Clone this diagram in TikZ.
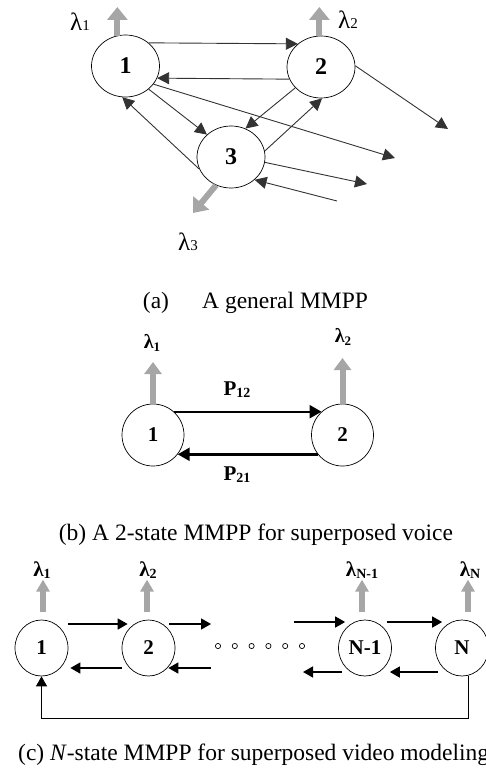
\documentclass[tikz,border=0pt]{standalone}
\usepackage{fontspec}
\setmainfont{Liberation Serif}
\usetikzlibrary{arrows.meta,shapes.geometric,calc}
\newcommand\lbsub[3]{\textbf{λ}\raisebox{#1}{\fontsize{#2}{#2}\selectfont\textbf{#3}}}
\begin{document}
\begin{tikzpicture}[x=1pt,y=-1pt,
  sta/.style={draw, ellipse, line width=0.7pt, inner sep=0, minimum width=68pt, minimum height=62pt, font=\fontsize{24}{28}\selectfont\bfseries},
  stb/.style={draw, circle, line width=0.7pt, inner sep=0, minimum size=62pt, font=\fontsize{21}{24}\selectfont\bfseries},
  stc/.style={draw, ellipse, line width=0.7pt, inner sep=0, minimum width=53pt, minimum height=56pt, font=\fontsize{21}{24}\selectfont\bfseries},
  aa/.style={draw=black!80, line width=0.9pt, -{Triangle[length=12pt,width=12pt]}},
  ab/.style={draw=black, line width=2.4pt, -{Triangle[length=12pt,width=13pt]}},
  ac/.style={draw=black, line width=1.5pt, -{Triangle[length=10pt,width=11pt]}},
  lama/.style={draw=black!35, line width=6pt, -{Triangle[length=13pt,width=20pt]}},
  lamb/.style={draw=black!35, line width=6pt, -{Triangle[length=12pt,width=17pt]}},
  lamc/.style={draw=black!35, line width=5.5pt, -{Triangle[length=12pt,width=13pt]}},
  captxt/.style={inner sep=0, font=\fontsize{23.5}{28}\selectfont},
  lab/.style={inner sep=0}
]
\useasboundingbox (0,0) rectangle (485,773);

% ---------- (a) ----------
\node[sta] (n1) at (125.5,66) {1};
\node[sta] (n2) at (321,67) {2};
\node[sta] (n3) at (231,157) {3};
\coordinate (c2o) at (448,129);
\coordinate (c1o) at (395,158);
\coordinate (c3o) at (367,184);
\coordinate (c3i) at (337,201);
\coordinate (la1) at (117,7);
\coordinate (la2) at (319,7);
\coordinate (la3) at (193,213);
\draw[aa] (n1.45) -- (n2.135);
\draw[aa] (n2.201) -- (n1.-21);
\draw[aa] (n2.2) -- (c2o);
\draw[aa] (n1.-33) -- (c1o);
\draw[aa] (n1.-45) -- (n3.137);
\draw[aa] (n2.219) -- (n3.63);
\draw[aa] (n3.201) -- (n1.-96);
\draw[aa] (n3.10) -- (n2.-88);
\draw[aa] (n3.-9) -- (c3o);
\draw[aa] (c3i) -- (n3.-44);
\draw[lama] (n1.105) -- (n1.105 |- la1);
\draw[lama] (n2.93) -- (n2.93 |- la2);
\draw[lama] (n3.242) -- (la3);
\node[lab] (ta1) at (80,22) {\fontsize{25}{28}\selectfont λ{\fontsize{15}{16}\selectfont 1}};
\node[lab] (ta2) at (348,20) {\fontsize{25}{28}\selectfont λ{\fontsize{15}{16}\selectfont 2}};
\node[lab] (ta3) at (188,242) {\fontsize{25}{28}\selectfont λ{\fontsize{15}{16}\selectfont 3}};
\node[captxt] (ca1) at (156,303) {(a)};
\node[captxt, anchor=west] (ca2) at (202,303) {A general MMPP};

% ---------- (b) ----------
\node[stb] (m1) at (153,435) {1};
\node[stb] (m2) at (342.5,435) {2};
\coordinate (lb1) at (153,362);
\coordinate (lb2) at (342.5,358);
\draw[ab] (m1.48) -- (m2.132);
\draw[ab] (m2.218) -- (m1.-38);
\draw[lamb] (m1.north) -- (lb1);
\draw[lamb] (m2.north) -- (lb2);
\node[lab] (tb1) at (152,343) {\fontsize{20}{22}\selectfont\lbsub{-3pt}{13}{1}};
\node[lab] (tb2) at (343,337) {\fontsize{20}{22}\selectfont\lbsub{-3pt}{13}{2}};
\node[lab] (p12) at (237,390) {\fontsize{21}{24}\selectfont\textbf{P}\raisebox{-2pt}{\fontsize{14}{15}\selectfont\textbf{12}}};
\node[lab] (p21) at (237,475) {\fontsize{21}{24}\selectfont\textbf{P}\raisebox{-2pt}{\fontsize{14}{15}\selectfont\textbf{21}}};
\node[captxt] (cb) at (256,535) {(b) A 2-state MMPP for superposed voice};

% ---------- (c) ----------
\node[stc] (k1) at (41.5,648) {1};
\node[stc] (k2) at (148.5,648) {2};
\node[stc] (kN1) at (365,648) {N-1};
\node[stc] (kN) at (462,648) {N};
\coordinate (o1) at (211,624);
\coordinate (i1) at (294,622);
\coordinate (i2) at (211,668);
\coordinate (o2) at (303,672);
\coordinate (fb) at (0,718);
\draw[ac] ([yshift=24pt]k1.east) -- ([xshift=6pt,yshift=24pt]k2.west);
\draw[ac] ([xshift=-6pt,yshift=24pt]k2.east) -- (o1);
\draw[ac] (i1) -- ([xshift=7pt,yshift=26pt]kN1.west);
\draw[ac] ([xshift=-5pt,yshift=26pt]kN1.east) -- ([xshift=7pt,yshift=26pt]kN.west);
\draw[ac] ([yshift=-20pt]k2.west) -- ([xshift=2pt,yshift=-20pt]k1.east);
\draw[ac] (i2) -- ([xshift=-7pt,yshift=-20pt]k2.east);
\draw[ac] ([xshift=4pt,yshift=-24pt]kN1.west) -- (o2);
\draw[ac] ([xshift=3pt,yshift=-24pt]kN.west) -- ([xshift=-2pt,yshift=-24pt]kN1.east);
\draw[line width=1pt, -{Triangle[length=10pt,width=11pt]}] (kN.283) -- (kN.283 |- fb) -- (k1.south |- fb) -- (k1.south);
\draw[lamc] ([xshift=1.5pt,yshift=8pt]k1.north) -- ([xshift=1.5pt,yshift=40pt]k1.north);
\draw[lamc] ([xshift=-1.5pt,yshift=8pt]k2.north) -- ([xshift=-1.5pt,yshift=40pt]k2.north);
\draw[lamc] ([xshift=-3pt,yshift=8pt]kN1.north) -- ([xshift=-3pt,yshift=40pt]kN1.north);
\draw[lamc] ([xshift=6pt,yshift=8pt]kN.north) -- ([xshift=6pt,yshift=40pt]kN.north);
\foreach \i in {0,...,5} \draw[line width=0.7pt] (218+16.8*\i,646) circle (2.6pt);
\node[lab] (tc1) at (42,570) {\fontsize{21}{23}\selectfont\lbsub{-2pt}{14}{1}};
\node[lab] (tc2) at (148,570) {\fontsize{21}{23}\selectfont\lbsub{-2pt}{14}{2}};
\node[lab] (tc3) at (362,570) {\fontsize{21}{23}\selectfont\lbsub{-2pt}{14}{N-1}};
\node[lab] (tc4) at (470,570) {\fontsize{21}{23}\selectfont\lbsub{-2pt}{14}{N}};
\node[captxt, anchor=west] (cc) at (18,755) {(c) \textit{N}-state MMPP for superposed video modeling};
\end{tikzpicture}
\end{document}
